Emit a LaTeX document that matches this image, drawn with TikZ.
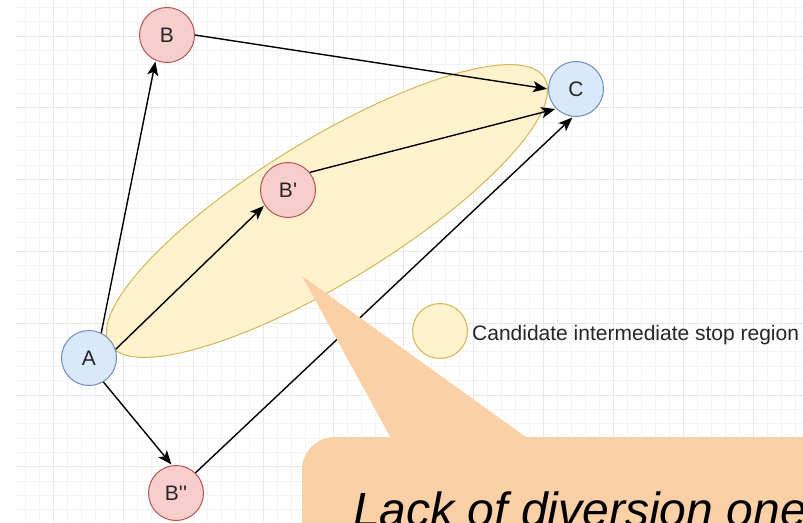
\documentclass[tikz,border=0pt]{standalone}
\usepackage{fontspec}
\setmainfont{Liberation Sans}
\newfontfamily\primefont{Liberation Sans}
\usepackage{tikz}
\usetikzlibrary{arrows.meta}
\definecolor{redfill}{HTML}{F8CECC}
\definecolor{redline}{HTML}{B85450}
\definecolor{bluefill}{HTML}{DAE8FC}
\definecolor{blueline}{HTML}{6C8EBF}
\definecolor{regionfill}{HTML}{FFF2CC}
\definecolor{regionline}{HTML}{D6B656}
\definecolor{calloutfill}{HTML}{FBD0A6}
\definecolor{minorgrid}{HTML}{F4F4F4}
\definecolor{majorgrid}{HTML}{E8E8E8}

\begin{document}
\begin{tikzpicture}[x=1pt,y=-1pt,>={Stealth[length=14pt,width=11pt,inset=3.5pt]},
	end node/.style={circle,draw=blueline,fill=bluefill,line width=1pt,minimum size=55pt,inner sep=0pt},
	stop node/.style={circle,draw=redline,fill=redfill,line width=1pt,minimum size=55pt,inner sep=0pt},
	region/.style={draw=regionline,fill=regionfill,line width=1pt},
	link/.style={->,line width=1.4pt,shorten >=1pt}]
	\tikzstyle{every node}=[font=\fontsize{21}{25}\selectfont,text=black!85]
	\useasboundingbox (0,0) rectangle (803,522);
	\fill[white] (0,0) rectangle (803,522);
	% grid
	\begin{scope}
	\clip (16,0) rectangle (803,522);
	\foreach \i in {-3,...,54} \draw[minorgrid,line width=1pt] ({53+14*\i},0) -- ++(0,522);
	\foreach \j in {-3,...,37} \draw[minorgrid,line width=1pt] (16,{36+14.36*\j}) -- ++(787,0);
	\foreach \i in {0,...,10} \draw[majorgrid,line width=1pt] ({53+70*\i},0) -- ++(0,522);
	\foreach \j in {0,...,7} \draw[majorgrid,line width=1pt] (16,{36+71.8*\j}) -- ++(787,0);
	\end{scope}
	% candidate region
	\draw[region,rotate around={31.5:(327,211)}] (327,211) ellipse [x radius=255,y radius=71];
	\draw (89,358) node(A) [end node] {A}
	      (167,35) node(B) [stop node] {B}
	      (288,190) node(B1) [stop node] {B{\primefont'}}
	      (176,493) node(B2) [stop node] {B{\primefont''}}
	      (576,89) node(C) [end node] {C};
	\draw[link] (A.64) -- (B.246);
	\draw[link] (B.0) -- (C.180);
	\draw[link] (A.18) -- (B1.213);
	\draw[link] (B1.39) -- (C.225);
	\draw[link] (A.301) -- (B2.98);
	\draw[link] (B2.46) -- (C.264);
	% legend
	\draw (440,331) node(key) [circle,region,minimum size=55pt,inner sep=0pt] {}
	      (472,340) node(keylabel) [anchor=base west,inner sep=0pt] {Candidate intermediate stop region};
	% callout
	\fill[calloutfill,rounded corners=33pt] (302,437) rectangle (860,580);
	\fill[calloutfill] (392,440) -- (302,276) -- (530,440) -- cycle;
	\draw (353,526) node(note) [anchor=base west,inner sep=0pt,font=\fontsize{48}{56}\selectfont\itshape,text=black] {Lack of diversion one};
\end{tikzpicture}
\end{document}
